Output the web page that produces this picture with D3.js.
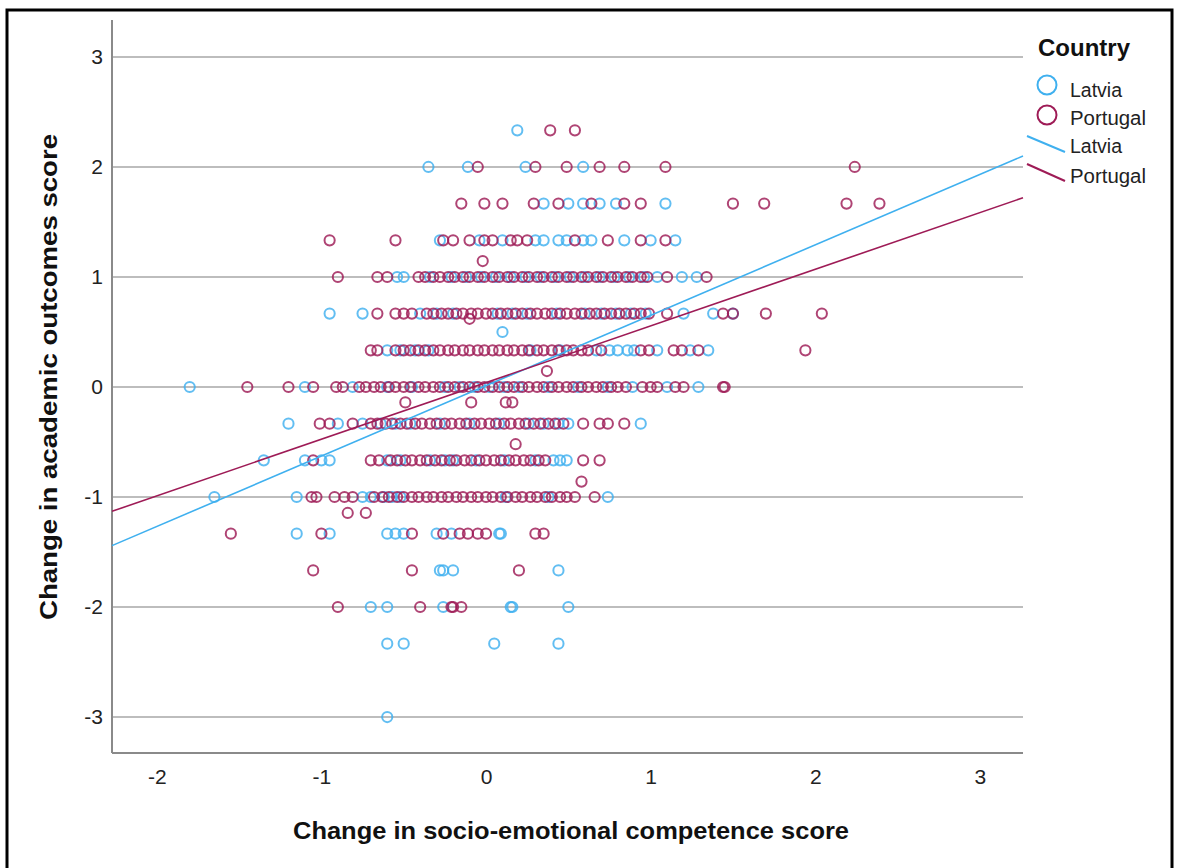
<!DOCTYPE html>
<html>
<head>
<meta charset="utf-8">
<script src="https://cdn.jsdelivr.net/npm/d3@7"></script>
<style>
  body { margin: 0; background: #fff; }
  svg text { font-family: "Liberation Sans", Arial, sans-serif; }
</style>
</head>
<body>
<div id="chart"></div>
<script>
// tick labels
const xTicks = [-2, -1, 0, 1, 2, 3];
const yTicks = [-3, -2, -1, 0, 1, 2, 3];
const countries = ["Latvia", "Portugal"];

// fit lines (slope, intercept)
const fitSlope = [0.64, 0.515];
const fitIntercept = [0.012, 0.04];

// points per score row: [academic change, [socio-emotional changes]]
const latviaRows = [
    [2.333, [0.19]],
    [2, [-0.35, -0.11, 0.24, 0.59]],
    [1.667, [0.35, 0.50, 0.59, 0.69, 0.79, 1.09]],
    [1.333, [-0.28, -0.04, 0.10, 0.30, 0.35, 0.44, 0.49, 0.59, 0.64, 0.84, 1.00, 1.15]],
    [1, [-0.54, -0.50, -0.34, -0.21, -0.12, -0.03, 0.06, 0.15, 0.24, 0.33, 0.42, 0.51, 0.60, 0.69, 0.78, 0.87, 0.96, 1.04, 1.19, 1.28]],
    [0.667, [-0.95, -0.75, -0.40, -0.30, -0.20, 0.07, 0.16, 0.25, 0.43, 0.60, 0.70, 0.79, 0.88, 0.97, 1.20, 1.38, 1.50]],
    [0.333, [-0.60, -0.52, -0.43, -0.35, 0.27, 0.45, 0.67, 0.75, 0.80, 0.86, 0.90, 1.04, 1.24, 1.35]],
    [0, [-1.80, -1.10, -0.81, -0.60, -0.45, -0.25, -0.16, -0.07, 0.02, 0.11, 0.20, 0.38, 0.56, 0.74, 0.89, 1.10, 1.29]],
    [-0.333, [-1.20, -0.90, -0.75, -0.64, -0.55, -0.46, -0.28, -0.10, 0.08, 0.26, 0.35, 0.44, 0.50, 0.94]],
    [-0.667, [-1.35, -1.10, -1.00, -0.95, -0.60, -0.52, -0.34, -0.25, -0.20, -0.06, 0.11, 0.30, 0.41, 0.45, 0.49]],
    [-1, [-1.65, -1.15, -0.75, -0.70, -0.62, -0.57, -0.52, 0.12, 0.38, 0.74]],
    [-1.333, [-1.15, -0.95, -0.60, -0.55, -0.50, -0.30, -0.21, 0.08, 0.09]],
    [-1.667, [-0.28, -0.26, -0.20, 0.44]],
    [-2, [-0.70, -0.60, -0.26, 0.15, 0.16, 0.50]],
    [-2.333, [-0.60, -0.50, 0.05, 0.44]],
    [-3, [-0.60]],
    [0.5, [0.10]]
];

const portugalRows = [
    [2.333, [0.39, 0.54]],
    [2, [-0.05, 0.30, 0.49, 0.69, 0.84, 1.09, 2.24]],
    [1.667, [-0.15, -0.01, 0.10, 0.29, 0.44, 0.64, 0.84, 0.94, 1.50, 1.69, 2.19, 2.39]],
    [1.333, [-0.95, -0.55, -0.26, -0.20, -0.10, -0.01, 0.04, 0.15, 0.19, 0.25, 0.54, 0.74, 0.94, 1.09]],
    [1.145, [-0.02]],
    [1, [-0.90, -0.66, -0.60, -0.41, -0.37, -0.32, -0.28, -0.23, -0.19, -0.14, -0.10, -0.05, -0.01, 0.04, 0.08, 0.13, 0.17, 0.22, 0.26, 0.31, 0.35, 0.40, 0.44, 0.49, 0.53, 0.58, 0.62, 0.67, 0.71, 0.76, 0.80, 0.85, 0.89, 0.94, 0.98, 1.10, 1.34]],
    [0.667, [-0.66, -0.55, -0.50, -0.45, -0.36, -0.32, -0.27, -0.23, -0.18, -0.14, -0.09, -0.05, 0.00, 0.04, 0.09, 0.13, 0.18, 0.22, 0.27, 0.31, 0.36, 0.40, 0.45, 0.49, 0.54, 0.58, 0.63, 0.67, 0.72, 0.76, 0.81, 0.85, 0.90, 0.94, 0.99, 1.10, 1.44, 1.50, 1.70, 2.04]],
    [0.62, [-0.10]],
    [0.333, [-0.70, -0.66, -0.55, -0.50, -0.46, -0.41, -0.37, -0.32, -0.28, -0.23, -0.19, -0.14, -0.10, -0.05, -0.01, 0.04, 0.08, 0.13, 0.17, 0.22, 0.26, 0.31, 0.35, 0.40, 0.44, 0.49, 0.53, 0.58, 0.62, 0.70, 0.94, 0.99, 1.14, 1.19, 1.29, 1.94]],
    [0.145, [0.37]],
    [0, [-1.45, -1.20, -1.05, -0.91, -0.87, -0.77, -0.73, -0.68, -0.64, -0.59, -0.55, -0.50, -0.46, -0.41, -0.37, -0.32, -0.28, -0.23, -0.19, -0.14, -0.10, -0.05, -0.01, 0.04, 0.08, 0.13, 0.17, 0.22, 0.26, 0.31, 0.35, 0.40, 0.44, 0.49, 0.53, 0.58, 0.62, 0.67, 0.71, 0.76, 0.80, 0.85, 0.95, 1.00, 1.04, 1.15, 1.20, 1.44, 1.45]],
    [-0.14, [-0.49, -0.09, 0.12, 0.16]],
    [-0.333, [-1.01, -0.95, -0.81, -0.70, -0.66, -0.61, -0.57, -0.52, -0.48, -0.43, -0.39, -0.34, -0.30, -0.25, -0.21, -0.16, -0.12, -0.07, -0.03, 0.02, 0.06, 0.11, 0.15, 0.20, 0.24, 0.29, 0.33, 0.38, 0.42, 0.47, 0.59, 0.69, 0.74, 0.84]],
    [-0.52, [0.18]],
    [-0.667, [-1.05, -0.70, -0.65, -0.58, -0.54, -0.49, -0.45, -0.40, -0.36, -0.31, -0.27, -0.22, -0.18, -0.13, -0.09, -0.04, 0.00, 0.05, 0.09, 0.14, 0.18, 0.23, 0.27, 0.32, 0.36, 0.59, 0.69]],
    [-0.86, [0.58]],
    [-1, [-1.06, -1.03, -0.92, -0.86, -0.81, -0.68, -0.63, -0.59, -0.54, -0.50, -0.45, -0.41, -0.36, -0.32, -0.27, -0.23, -0.18, -0.14, -0.09, -0.05, 0.00, 0.04, 0.09, 0.13, 0.18, 0.22, 0.27, 0.31, 0.36, 0.40, 0.45, 0.49, 0.54, 0.66]],
    [-1.145, [-0.84, -0.73]],
    [-1.333, [-1.55, -1.00, -0.45, -0.26, -0.16, -0.11, -0.05, 0.00, 0.30, 0.35]],
    [-1.667, [-1.05, -0.45, 0.20]],
    [-2, [-0.90, -0.40, -0.21, -0.20, -0.15]]
];

const colors = ["#3fb0ef", "#9e1b56"];

function flatten(rows) {
    let out = [];
    rows.forEach(function (r) {
        r[1].forEach(function (x) { out.push({ x: x, y: r[0] }); });
    });
    return out;
}

const width = 1178, height = 868;
const plot = { left: 112, right: 1023, top: 20, bottom: 753 };

const svg = d3.select("#chart").append("svg")
    .attr("width", width)
    .attr("height", height);

// outer frame
svg.append("rect")
    .attr("x", 7).attr("y", 10)
    .attr("width", 1165).attr("height", 875)
    .attr("fill", "none")
    .attr("stroke", "#000")
    .attr("stroke-width", 3);

const x = d3.scaleLinear().domain([-2.272, 3.262]).range([plot.left, plot.right]);
const y = d3.scaleLinear().domain([-3.327, 3.336]).range([plot.bottom, plot.top]);

// grid lines
svg.append("g")
    .selectAll("line")
    .data(yTicks)
    .enter().append("line")
    .attr("x1", plot.left).attr("x2", plot.right)
    .attr("y1", function (d) { return y(d); })
    .attr("y2", function (d) { return y(d); })
    .attr("stroke", "#bdbdbd")
    .attr("stroke-width", 2);

// axes (plain hyphen for negatives, like the source)
let plain = function (d) { return String(d); };
let yAxis = svg.append("g")
    .attr("transform", "translate(" + plot.left + ",0)")
    .call(d3.axisLeft(y).tickValues(yTicks).tickSize(0).tickPadding(9).tickFormat(plain));
let xAxis = svg.append("g")
    .attr("transform", "translate(0," + plot.bottom + ")")
    .call(d3.axisBottom(x).tickValues(xTicks).tickSize(0).tickPadding(16).tickFormat(plain));

[xAxis, yAxis].forEach(function (a) {
    a.select(".domain").attr("stroke", "#8a8a8a").attr("stroke-width", 2);
    a.selectAll("text")
        .attr("font-family", "Liberation Sans, Arial, sans-serif")
        .attr("font-size", 21)
        .attr("fill", "#222");
});
yAxis.select(".domain").attr("d", "M0," + plot.top + "V" + plot.bottom);
xAxis.select(".domain").attr("d", "M" + plot.left + ",0H" + plot.right);

// points
const groups = [flatten(latviaRows), flatten(portugalRows)];
groups.forEach(function (pts, i) {
    svg.append("g")
        .attr("class", "points " + countries[i])
        .selectAll("circle")
        .data(pts)
        .enter().append("circle")
        .attr("cx", function (d) { return x(d.x); })
        .attr("cy", function (d) { return y(d.y); })
        .attr("r", 5.1)
        .attr("fill", "none")
        .attr("stroke", colors[i])
        .attr("stroke-opacity", 0.82)
        .attr("stroke-width", 2);
});

// fit lines
countries.forEach(function (c, i) {
    let xs = x.domain();
    svg.append("line")
        .attr("x1", x(xs[0])).attr("y1", y(fitIntercept[i] + fitSlope[i] * xs[0]))
        .attr("x2", x(xs[1])).attr("y2", y(fitIntercept[i] + fitSlope[i] * xs[1]))
        .attr("stroke", colors[i])
        .attr("stroke-width", 1.6);
});

// axis titles
svg.append("text")
    .attr("x", 571).attr("y", 839)
    .attr("text-anchor", "middle")
    .attr("font-weight", "bold")
    .attr("font-size", 24)
    .attr("textLength", 556)
    .attr("lengthAdjust", "spacingAndGlyphs")
    .attr("fill", "#111")
    .text("Change in socio-emotional competence score");

svg.append("text")
    .attr("transform", "translate(57,377) rotate(-90)")
    .attr("text-anchor", "middle")
    .attr("font-weight", "bold")
    .attr("font-size", 24)
    .attr("textLength", 486)
    .attr("lengthAdjust", "spacingAndGlyphs")
    .attr("fill", "#111")
    .text("Change in academic outcomes score");

// legend
let legend = svg.append("g");
legend.append("text")
    .attr("x", 1038).attr("y", 56)
    .attr("font-weight", "bold")
    .attr("font-size", 24)
    .attr("fill", "#111")
    .text("Country");

countries.forEach(function (c, i) {
    legend.append("circle")
        .attr("cx", 1047).attr("cy", 85 + i * 30)
        .attr("r", 9.5)
        .attr("fill", "none")
        .attr("stroke", colors[i])
        .attr("stroke-width", 2);
    legend.append("text")
        .attr("x", 1070).attr("y", 97 + i * 28)
        .attr("font-size", 20)
        .attr("textLength", i === 0 ? 52 : 76)
        .attr("lengthAdjust", "spacingAndGlyphs")
        .attr("fill", "#222")
        .text(c);
    legend.append("line")
        .attr("x1", 1027).attr("y1", 136 + i * 28)
        .attr("x2", 1065).attr("y2", 152 + i * 29)
        .attr("stroke", colors[i])
        .attr("stroke-width", 2);
    legend.append("text")
        .attr("x", 1070).attr("y", 153 + i * 30)
        .attr("font-size", 20)
        .attr("textLength", i === 0 ? 52 : 76)
        .attr("lengthAdjust", "spacingAndGlyphs")
        .attr("fill", "#222")
        .text(c);
});
</script>
</body>
</html>
